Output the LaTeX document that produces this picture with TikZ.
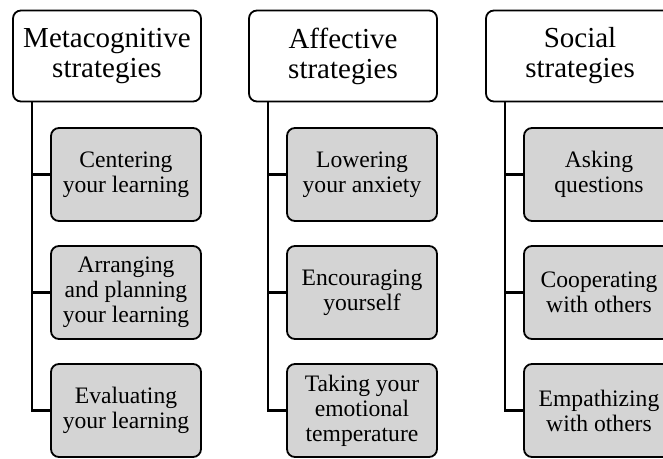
\documentclass[tikz,border=0pt]{standalone}
\usepackage{fontspec}
\setmainfont{Liberation Serif}
\usepackage{tikz}
\tikzset{
  % node styles (category heads and their strategies)
  head/.style={rectangle,rounded corners=8pt,draw,line width=1.8pt,fill=white,
    minimum width=188pt,minimum height=91pt,inner sep=0pt,align=center,
    font=\fontsize{29}{30}\selectfont},
  strat/.style={rectangle,rounded corners=8pt,draw,line width=1.8pt,fill=black!17,
    minimum width=150pt,minimum height=93pt,inner sep=0pt,align=center,
    font=\fontsize{23.6}{25}\selectfont},
  link/.style={line width=2.2pt},
}
\begin{document}
\begin{tikzpicture}[x=1pt,y=-1pt]
  \useasboundingbox (0,0) rectangle (663,458);
  % metacognitive
  \node[head] (meta) at (107,56) {Metacognitive\\strategies};
  \node[strat] (meta1) at (126,174.5) {Centering\\your learning};
  \node[strat] (meta2) at (126,292.5) {Arranging\\and planning\\your learning};
  \node[strat] (meta3) at (126,410.5) {Evaluating\\your learning};
  % affective
  \node[head] (aff) at (343,56) {Affective\\strategies};
  \node[strat] (aff1) at (362,174.5) {Lowering\\your anxiety};
  \node[strat] (aff2) at (362,292.5) {Encouraging\\yourself};
  \node[strat] (aff3) at (362,410.5) {Taking your\\emotional\\temperature};
  % social
  \node[head] (soc) at (580,56) {Social\\strategies};
  \node[strat] (soc1) at (599,174.5) {Asking\\questions};
  \node[strat] (soc2) at (599,292.5) {Cooperating\\with others};
  \node[strat] (soc3) at (599,410.5) {Empathizing\\with others};
  \foreach \c in {meta,aff,soc}
    \foreach \i in {1,2,3}
      \draw[link] ([xshift=20pt]\c.south west) |- (\c\i.west);
\end{tikzpicture}
\end{document}
